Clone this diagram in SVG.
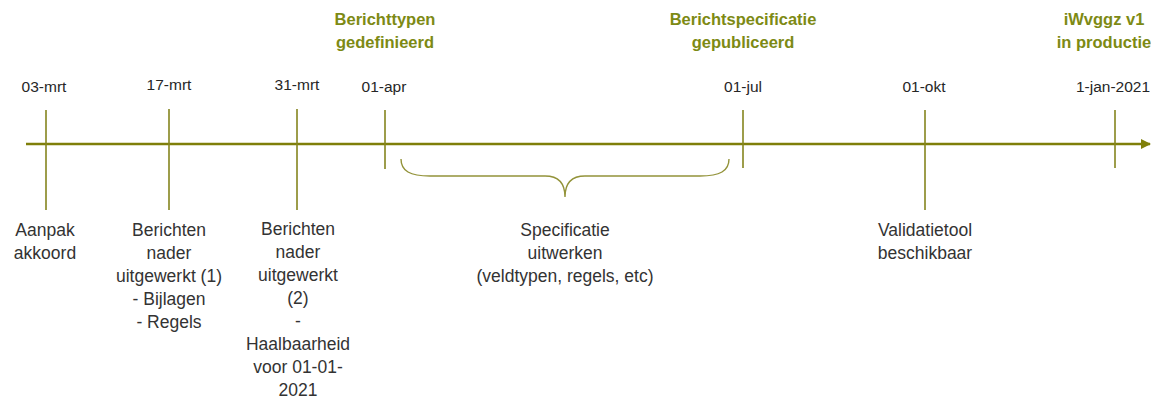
<svg xmlns="http://www.w3.org/2000/svg" width="1151" height="400" viewBox="0 0 1151 400">
<defs>
<style>
.date{font-family:"Liberation Sans",Arial,sans-serif;font-size:15.5px;fill:#262626;text-anchor:middle}
.lbl{font-family:"Liberation Sans",Arial,sans-serif;font-size:17.5px;fill:#333333;text-anchor:middle}
.ttl{font-family:"Liberation Sans",Arial,sans-serif;font-size:16.5px;font-weight:bold;fill:#7d8a14;text-anchor:middle}
.tick{stroke:#85851e;stroke-width:1.6;fill:none}
.axis{stroke:#7f7f0a;stroke-width:2.6;fill:none}
.brace{stroke:#93933a;stroke-width:1.4;fill:none}
</style>
<marker id="arr" markerWidth="10" markerHeight="10" refX="9" refY="5" orient="auto" markerUnits="userSpaceOnUse">
<path d="M0,0 L10,5 L0,10 Z" fill="#7f7f0a"/>
</marker>
</defs>
<rect width="1151" height="400" fill="#ffffff"/>
<g id="connectors">
<line class="axis" x1="26" y1="144" x2="1150" y2="144" marker-end="url(#arr)"/>
<line class="tick" x1="46" y1="110" x2="46" y2="210"/>
<line class="tick" x1="169" y1="109" x2="169" y2="210"/>
<line class="tick" x1="297" y1="109" x2="297" y2="210"/>
<line class="tick" x1="385" y1="110" x2="385" y2="169"/>
<line class="tick" x1="743" y1="110" x2="743" y2="168"/>
<line class="tick" x1="925" y1="110" x2="925" y2="210"/>
<line class="tick" x1="1115" y1="110" x2="1115" y2="168"/>
<path class="brace" d="M401,159 C401,171 410,176 430,176 L545,176 C558,176 565,182 565,197 C565,182 572,176 585,176 L700,176 C720,176 729,171 729,159"/>
</g>
<g id="node-03mrt">
<text class="date" x="44" y="92">03-mrt</text>
<text class="lbl" x="45" y="236">Aanpak</text>
<text class="lbl" x="45" y="259">akkoord</text>
</g>
<g id="node-17mrt">
<text class="date" x="169" y="90">17-mrt</text>
<text class="lbl" x="169" y="236">Berichten</text>
<text class="lbl" x="169" y="259">nader</text>
<text class="lbl" x="169" y="282">uitgewerkt (1)</text>
<text class="lbl" x="169" y="305">- Bijlagen</text>
<text class="lbl" x="169" y="328">- Regels</text>
</g>
<g id="node-31mrt">
<text class="date" x="297" y="90">31-mrt</text>
<text class="lbl" x="298" y="235">Berichten</text>
<text class="lbl" x="298" y="258">nader</text>
<text class="lbl" x="298" y="281">uitgewerkt</text>
<text class="lbl" x="298" y="304">(2)</text>
<text class="lbl" x="298" y="327">-</text>
<text class="lbl" x="298" y="350">Haalbaarheid</text>
<text class="lbl" x="298" y="373">voor 01-01-</text>
<text class="lbl" x="298" y="396">2021</text>
</g>
<g id="node-01apr">
<text class="ttl" x="385" y="25">Berichttypen</text>
<text class="ttl" x="385" y="48">gedefinieerd</text>
<text class="date" x="384" y="92">01-apr</text>
</g>
<g id="node-spec">
<text class="lbl" x="565" y="236">Specificatie</text>
<text class="lbl" x="565" y="259">uitwerken</text>
<text class="lbl" x="565" y="282">(veldtypen, regels, etc)</text>
</g>
<g id="node-01jul">
<text class="ttl" x="743" y="25">Berichtspecificatie</text>
<text class="ttl" x="743" y="48">gepubliceerd</text>
<text class="date" x="743" y="92">01-jul</text>
</g>
<g id="node-01okt">
<text class="date" x="924" y="92">01-okt</text>
<text class="lbl" x="925" y="236">Validatietool</text>
<text class="lbl" x="925" y="259">beschikbaar</text>
</g>
<g id="node-1jan">
<text class="ttl" x="1104" y="25">iWvggz v1</text>
<text class="ttl" x="1104" y="48">in productie</text>
<text class="date" x="1113" y="92">1-jan-2021</text>
</g>
</svg>
